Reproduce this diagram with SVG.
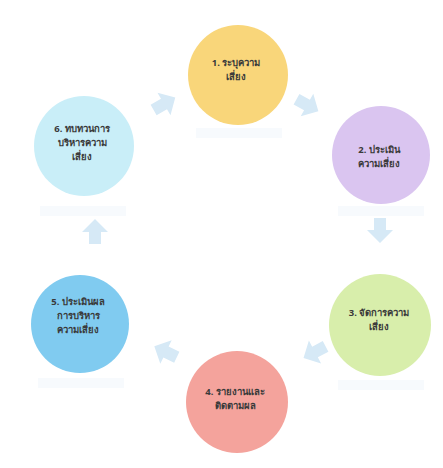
<svg xmlns="http://www.w3.org/2000/svg" width="443" height="468" viewBox="0 0 443 468">
<style>
text{font-family:"Noto Sans","DejaVu Sans","Liberation Sans",sans-serif;font-size:9.5px;font-weight:bold;fill:#3a3a3a;text-anchor:middle}
.refl{fill:#f1f7fb;opacity:0.6}
.arr{fill:#d6e9f6}
</style>
<defs>
<path id="arrow" d="M0,-13 L13,0 L6,0 L6,12 L-6,12 L-6,0 L-13,0 Z"/>
</defs>
<rect width="443" height="468" fill="#ffffff"/>
<g id="reflections">
<rect class="refl" x="196" y="128" width="86" height="10"/>
<rect class="refl" x="338" y="206" width="86" height="10"/>
<rect class="refl" x="338" y="380" width="86" height="10"/>
<rect class="refl" x="40" y="206" width="86" height="10"/>
<rect class="refl" x="38" y="378" width="86" height="10"/>
</g>
<g id="connectors">
<use href="#arrow" class="arr" transform="translate(164,104) rotate(60)"/>
<use href="#arrow" class="arr" transform="translate(307,105) rotate(119)"/>
<use href="#arrow" class="arr" transform="translate(380,230) rotate(180)"/>
<use href="#arrow" class="arr" transform="translate(315,352) rotate(242)"/>
<use href="#arrow" class="arr" transform="translate(166,352) rotate(296)"/>
<use href="#arrow" class="arr" transform="translate(95,232)"/>
</g>
<g id="node1">
<circle cx="238" cy="75" r="50" fill="#f9d67a"/>
<text x="236" y="66">1. ระบุความ</text>
<text x="236" y="80">เสี่ยง</text>
</g>
<g id="node2">
<circle cx="381" cy="155" r="49" fill="#dac5f0"/>
<text x="379" y="153">2. ประเมิน</text>
<text x="379" y="167">ความเสี่ยง</text>
</g>
<g id="node3">
<circle cx="380" cy="325" r="51" fill="#d8eeab"/>
<text x="379" y="316">3. จัดการความ</text>
<text x="379" y="330">เสี่ยง</text>
</g>
<g id="node4">
<circle cx="237" cy="402" r="51" fill="#f4a39c"/>
<text x="235" y="395">4. รายงานและ</text>
<text x="235" y="409">ติดตามผล</text>
</g>
<g id="node5">
<circle cx="80" cy="324" r="49" fill="#80cbf0"/>
<text x="78" y="305">5. ประเมินผล</text>
<text x="78" y="319">การบริหาร</text>
<text x="78" y="333">ความเสี่ยง</text>
</g>
<g id="node6">
<circle cx="84" cy="146" r="50" fill="#c9eef8"/>
<text x="82" y="132">6. ทบทวนการ</text>
<text x="82" y="146">บริหารความ</text>
<text x="82" y="160">เสี่ยง</text>
</g>
</svg>
